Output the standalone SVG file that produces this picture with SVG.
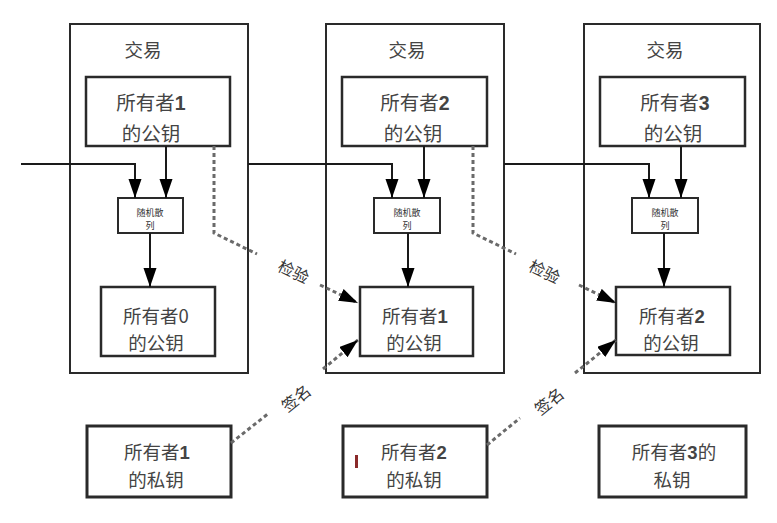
<svg xmlns="http://www.w3.org/2000/svg" width="777" height="523" viewBox="0 0 777 523">
<style>
  .tx { fill: #fff; stroke: #2a2a2a; stroke-width: 2; }
  .box { fill: #fff; stroke: #2a2a2a; stroke-width: 2.5; }
  .key { fill: #fff; stroke: #2a2a2a; stroke-width: 3; }
  .small { fill: #fff; stroke: #2a2a2a; stroke-width: 2; }
  text { font-family: "Noto Sans CJK SC", "Noto Sans", "DejaVu Sans", sans-serif; fill: #444; text-anchor: middle; }
  .t20 { font-size: 19.5px; }
  .t21 { font-size: 18.5px; }
  .t18 { font-size: 18.5px; }
  .t9 { font-size: 9px; fill: #333; }
  .d { font-weight: bold; font-family: "Liberation Sans", "DejaVu Sans", sans-serif; }
  .lbl { font-size: 16px; fill: #333; }
  .line { fill: none; stroke: #1a1a1a; stroke-width: 2; }
  .dash { fill: none; stroke: #6a6a6a; stroke-width: 3; stroke-dasharray: 4 3; }
</style>
<defs>
  <marker id="ah" markerUnits="userSpaceOnUse" markerWidth="20" markerHeight="14" refX="19" refY="6.5" orient="auto">
    <path d="M0,0 L19,6.5 L0,13 z" fill="#000"/>
  </marker>
</defs>

<g id="tx1">
  <rect class="tx" x="70" y="24" width="178" height="349"/>
  <text class="t18" x="143" y="57">交易</text>
</g>
<g id="tx2">
  <rect class="tx" x="326" y="24" width="178" height="349"/>
  <text class="t18" x="407" y="57">交易</text>
</g>
<g id="tx3">
  <rect class="tx" x="584" y="24" width="176" height="349"/>
  <text class="t18" x="665" y="57">交易</text>
</g>

<g id="pub1top">
  <rect class="box" x="86" y="77" width="144" height="69"/>
  <text class="t20" x="151" y="110">所有者<tspan class="d">1</tspan></text>
  <text class="t20" x="151" y="141">的公钥</text>
</g>
<g id="pub2top">
  <rect class="box" x="342" y="77" width="145" height="69"/>
  <text class="t20" x="415" y="110">所有者<tspan class="d">2</tspan></text>
  <text class="t20" x="413" y="141">的公钥</text>
</g>
<g id="pub3top">
  <rect class="box" x="600" y="77" width="145" height="69"/>
  <text class="t20" x="675" y="110">所有者<tspan class="d">3</tspan></text>
  <text class="t20" x="673" y="141">的公钥</text>
</g>

<g id="hash1">
  <rect class="small" x="118" y="198" width="65" height="35"/>
  <text class="t9" x="150" y="216">随机散</text>
  <text class="t9" x="150" y="229">列</text>
</g>
<g id="hash2">
  <rect class="small" x="374" y="198" width="66" height="35"/>
  <text class="t9" x="407" y="216">随机散</text>
  <text class="t9" x="407" y="229">列</text>
</g>
<g id="hash3">
  <rect class="small" x="632" y="198" width="66" height="35"/>
  <text class="t9" x="665" y="216">随机散</text>
  <text class="t9" x="665" y="229">列</text>
</g>

<g id="pub0">
  <rect class="box" x="101" y="287" width="114" height="69"/>
  <text class="t21" x="156" y="323">所有者0</text>
  <text class="t21" x="156" y="350">的公钥</text>
</g>
<g id="pub1">
  <rect class="box" x="360" y="287" width="113" height="69"/>
  <text class="t21" x="415" y="323">所有者<tspan class="d">1</tspan></text>
  <text class="t21" x="414" y="350">的公钥</text>
</g>
<g id="pub2">
  <rect class="box" x="616" y="287" width="114" height="68"/>
  <text class="t21" x="672" y="323">所有者<tspan class="d">2</tspan></text>
  <text class="t21" x="671" y="350">的公钥</text>
</g>

<g id="priv1">
  <rect class="key" x="87" y="426" width="144" height="71"/>
  <text class="t21" x="157" y="459">所有者<tspan class="d">1</tspan></text>
  <text class="t21" x="156" y="487">的私钥</text>
</g>
<g id="priv2">
  <rect class="key" x="343" y="426" width="144" height="71"/>
  <text class="t21" x="414" y="459">所有者<tspan class="d">2</tspan></text>
  <text class="t21" x="414" y="487">的私钥</text>
  <rect x="355" y="455" width="3" height="13" fill="#8a2a2a"/>
</g>
<g id="priv3">
  <rect class="key" x="599" y="426" width="147" height="71"/>
  <text class="t21" x="674" y="459">所有者<tspan class="d">3</tspan>的</text>
  <text class="t21" x="672" y="487">私钥</text>
</g>

<g id="connectors">
  <polyline class="line" points="21,164 135,164 135,198" marker-end="url(#ah)"/>
  <line class="line" x1="166" y1="146" x2="166" y2="198" marker-end="url(#ah)"/>
  <line class="line" x1="150" y1="233" x2="150" y2="287" marker-end="url(#ah)"/>
  <polyline class="line" points="248,164 392,164 392,198" marker-end="url(#ah)"/>
  <line class="line" x1="424" y1="146" x2="424" y2="198" marker-end="url(#ah)"/>
  <line class="line" x1="408" y1="233" x2="408" y2="287" marker-end="url(#ah)"/>
  <polyline class="line" points="504,164 649,164 649,198" marker-end="url(#ah)"/>
  <line class="line" x1="681" y1="146" x2="681" y2="198" marker-end="url(#ah)"/>
  <line class="line" x1="664" y1="233" x2="664" y2="287" marker-end="url(#ah)"/>

  <polyline class="dash" points="214,146 214,233 257,254"/>
  <line class="dash" x1="320" y1="285" x2="358" y2="303" marker-end="url(#ah)"/>
  <text class="lbl" transform="translate(291,277) rotate(26)">检验</text>

  <polyline class="dash" points="473,146 473,233 516,254"/>
  <line class="dash" x1="579" y1="285" x2="616" y2="303" marker-end="url(#ah)"/>
  <text class="lbl" transform="translate(542,277) rotate(26)">检验</text>

  <line class="dash" x1="231" y1="443" x2="269" y2="413"/>
  <line class="dash" x1="323" y1="369" x2="358" y2="340" marker-end="url(#ah)"/>
  <text class="lbl" transform="translate(300,403) rotate(-39)">签名</text>

  <line class="dash" x1="487" y1="445" x2="520" y2="418"/>
  <line class="dash" x1="575" y1="373" x2="616" y2="340" marker-end="url(#ah)"/>
  <text class="lbl" transform="translate(553,406) rotate(-39)">签名</text>
</g>
</svg>
